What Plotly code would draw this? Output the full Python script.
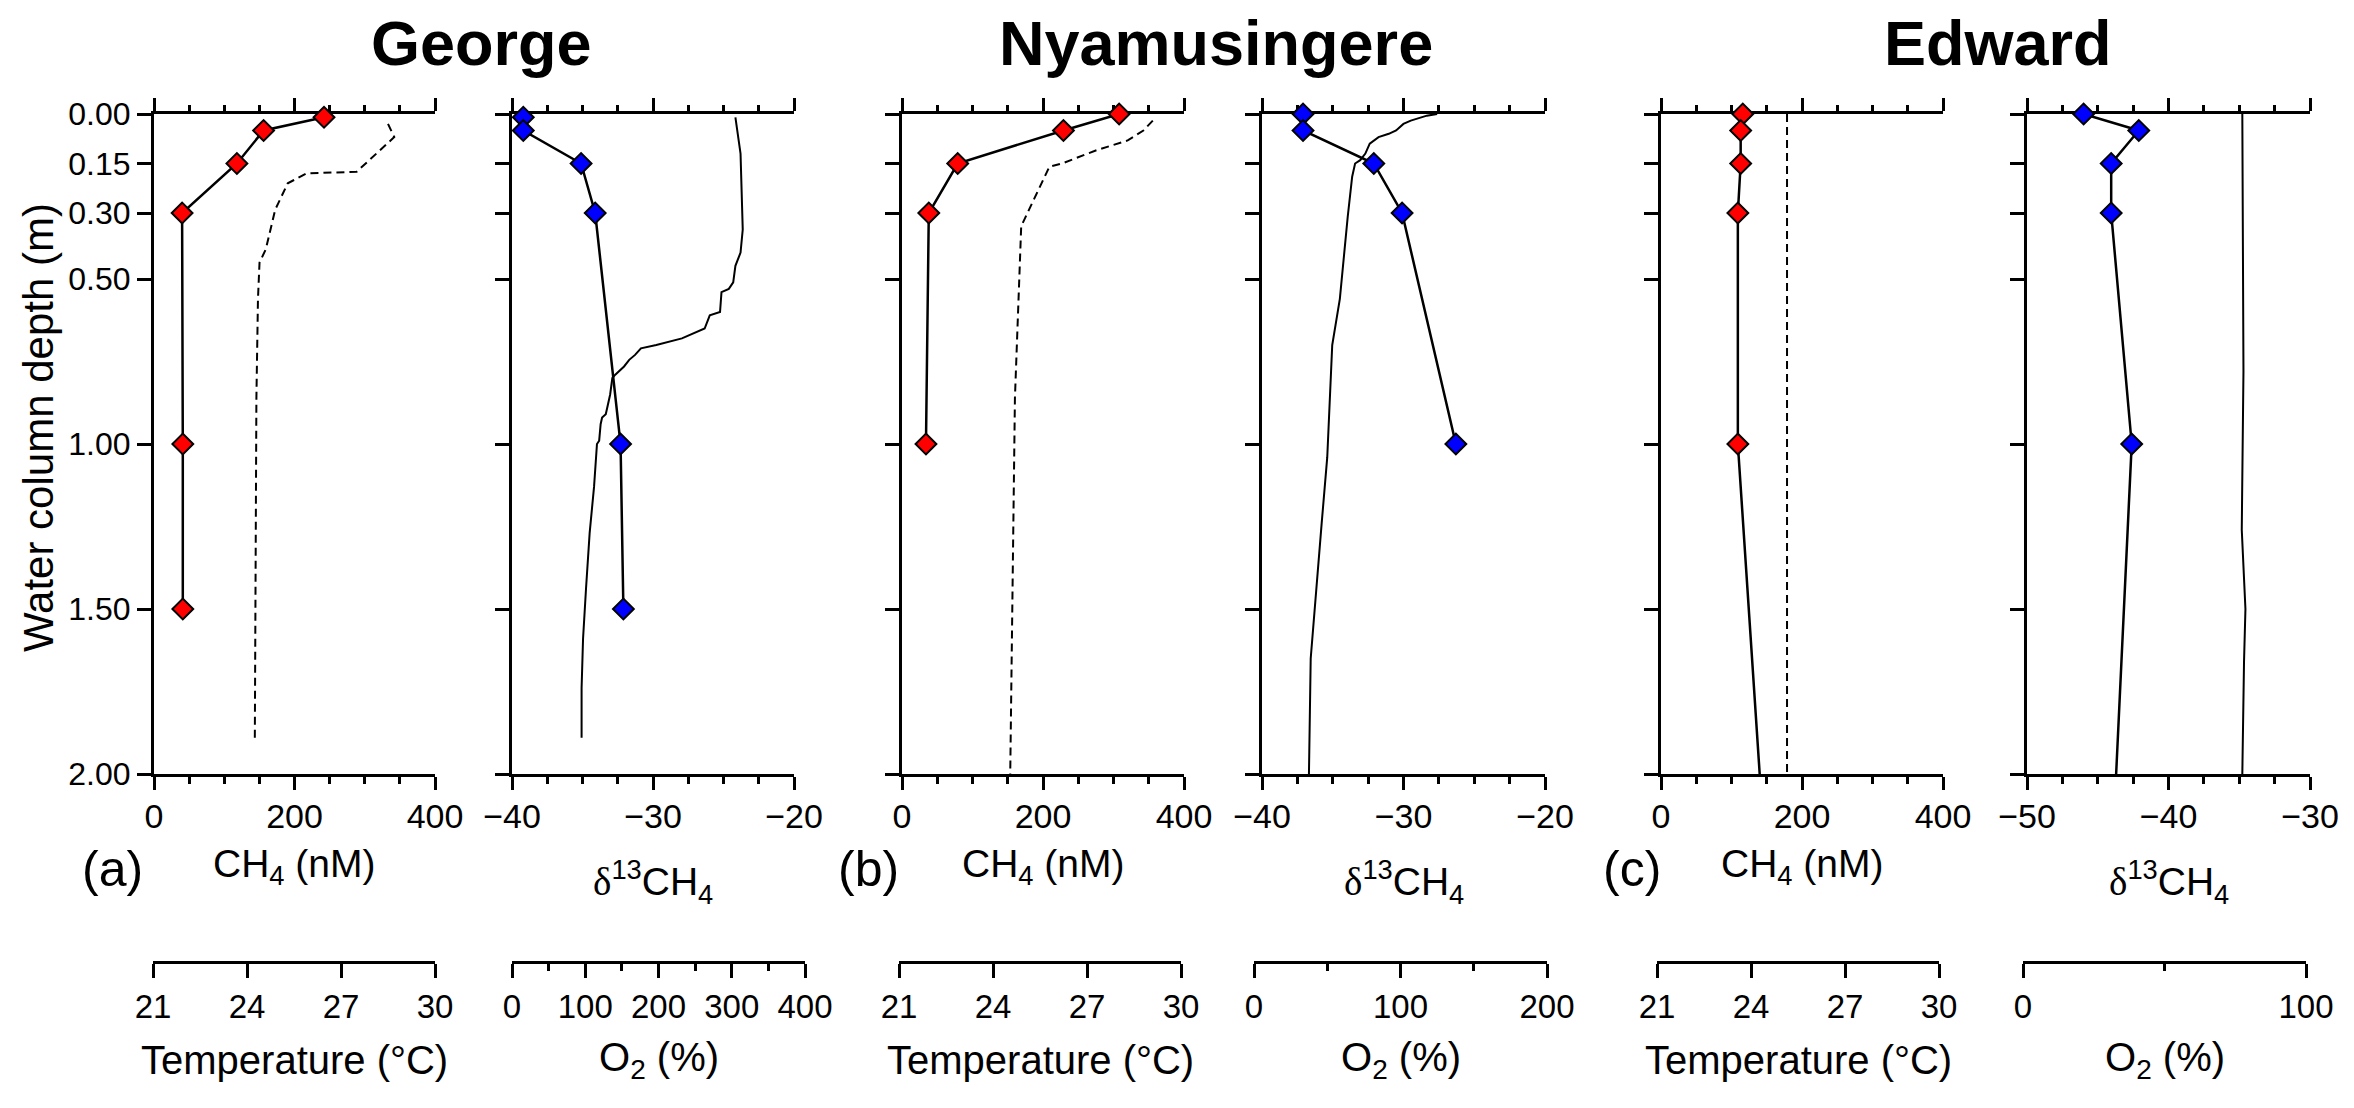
import plotly.graph_objects as go

W, H = 2354, 1108
OFF = 8  # default page margin around the plot div

# ---- data ----
depth_ticks = [0, 0.15, 0.30, 0.50, 1.00, 1.50, 2.00]
depth_labels = ["0.00", "0.15", "0.30", "0.50", "1.00", "1.50", "2.00"]

# George
george_depth = [0.01, 0.05, 0.15, 0.30, 1.00, 1.50]
george_ch4 = [242, 156, 118, 40, 41, 41]
george_d13c = [-39.2, -39.2, -35.1, -34.1, -32.3, -32.1]
george_temp_depth = [0.03, 0.07, 0.175, 0.18, 0.20, 0.21, 0.27, 0.29, 0.41, 0.45, 0.56, 0.86, 1.89]
george_temp = [28.5, 28.7, 27.5, 25.9, 25.5, 25.3, 25.0, 24.9, 24.6, 24.4, 24.35, 24.3, 24.25]
george_o2_depth = [0.01, 0.12, 0.35, 0.42, 0.46, 0.51, 0.53, 0.54, 0.60, 0.61, 0.65, 0.68, 0.70,
                   0.71, 0.73, 0.745, 0.765, 0.78, 0.79, 0.80, 0.85, 0.89, 0.91, 0.92, 0.94, 0.99,
                   1.00, 1.13, 1.27, 1.44, 1.59, 1.74, 1.89]
george_o2 = [305, 312, 315, 312, 305, 302, 296, 286, 284, 270, 263, 232, 197,
             176, 168, 160, 153, 145, 141, 137, 134, 130, 128, 123, 121, 119,
             116, 112, 106, 101, 97, 95, 95]

# Nyamusingere
nyam_depth = [0.0, 0.05, 0.15, 0.30, 1.00]
nyam_ch4 = [308, 229, 79, 38, 34]
nyam_d13c = [-37.1, -37.1, -32.1, -30.1, -26.3]
nyam_temp_depth = [0.02, 0.05, 0.08, 0.11, 0.15, 0.16, 0.32, 0.34, 0.86, 2.00]
nyam_temp = [29.1, 28.8, 28.3, 27.3, 26.2, 25.8, 25.0, 24.9, 24.7, 24.55]
nyam_o2_depth = [0.0, 0.005, 0.02, 0.03, 0.05, 0.06, 0.07, 0.09, 0.12, 0.14, 0.15, 0.19,
                 0.31, 0.56, 0.70, 0.84, 1.04, 1.24, 1.34, 1.50, 1.60, 1.65, 2.00]
nyam_o2 = [125, 118, 107, 102, 97, 92, 85, 79, 76, 72.5, 69, 67,
           64, 58.6, 53.4, 51.9, 50, 46.2, 44.4, 41.6, 39.4, 38.7, 37.5]

# Edward (last depth = line only, no sample marker)
edward_depth = [0.0, 0.05, 0.15, 0.30, 1.00, 2.00]
edward_ch4 = [116, 113, 113, 109, 109, 140]
edward_d13c = [-46.0, -42.1, -44.05, -44.05, -42.6, -43.7]
edward_temp_depth = [0.0, 2.0]
edward_temp = [25.15, 25.15]
edward_o2_depth = [0.0, 0.78, 1.26, 1.50, 1.66, 2.00]
edward_o2 = [77.5, 77.9, 77.3, 78.6, 78.1, 77.5]

lakes = ["George", "Nyamusingere", "Edward"]
letters = ["(a)", "(b)", "(c)"]

FW, FH = W - OFF, H - OFF


def fx(p):
    return (p - OFF) / FW


def fy(p):
    return 1 - (p - OFF) / FH


FONT = "Liberation Sans, Arial, sans-serif"

# panel geometry in screen pixels
panel_x = [(154, 435), (512, 794), (902, 1184), (1262, 1545), (1661, 1943), (2027, 2310)]
sec_x = [(153, 435), (512, 805), (899, 1181), (1254, 1547), (1657, 1939), (2023, 2306)]
top_px, bot_px, sec_px = 114, 774, 962

prim = [
    dict(range=[0, 400], dtick=200, tick0=0, minor=50),
    dict(range=[-40, -20], dtick=10, tick0=-40, minor=2.5),
    dict(range=[0, 400], dtick=200, tick0=0, minor=50),
    dict(range=[-40, -20], dtick=10, tick0=-40, minor=2.5),
    dict(range=[0, 400], dtick=200, tick0=0, minor=50),
    dict(range=[-50, -30], dtick=10, tick0=-50, minor=2.5),
]
sec = [
    dict(range=[21, 30], dtick=3, tick0=21, minor=None),
    dict(range=[0, 400], dtick=100, tick0=0, minor=50),
    dict(range=[21, 30], dtick=3, tick0=21, minor=None),
    dict(range=[0, 200], dtick=100, tick0=0, minor=50),
    dict(range=[21, 30], dtick=3, tick0=21, minor=None),
    dict(range=[0, 100], dtick=100, tick0=0, minor=50),
]

fig = go.Figure()

samples = [
    (george_depth, george_ch4, george_d13c, len(george_depth)),
    (nyam_depth, nyam_ch4, nyam_d13c, len(nyam_depth)),
    (edward_depth, edward_ch4, edward_d13c, 5),
]
profiles = [
    (george_temp_depth, george_temp, george_o2_depth, george_o2),
    (nyam_temp_depth, nyam_temp, nyam_o2_depth, nyam_o2),
    (edward_temp_depth, edward_temp, edward_o2_depth, edward_o2),
]

for k in range(3):
    d, ch4, d13c, nm = samples[k]
    td, temp, od, o2 = profiles[k]
    i1, i2 = 2 * k + 1, 2 * k + 2
    ya1 = "y" if i1 == 1 else "y%d" % i1
    ya2 = "y%d" % i2
    xa1 = "x" if i1 == 1 else "x%d" % i1
    xa2 = "x%d" % i2
    # temperature (dashed) and O2 profiles on their own lower axes
    fig.add_trace(go.Scatter(x=temp, y=td, xaxis="x%d" % (i1 + 6), yaxis=ya1, mode="lines",
                             line=dict(color="black", width=2, dash="8px,5px"), showlegend=False))
    fig.add_trace(go.Scatter(x=o2, y=od, xaxis="x%d" % (i2 + 6), yaxis=ya2, mode="lines",
                             line=dict(color="black", width=2), showlegend=False))
    # sample lines
    fig.add_trace(go.Scatter(x=ch4, y=d, xaxis=xa1, yaxis=ya1, mode="lines",
                             line=dict(color="black", width=2.5), showlegend=False))
    fig.add_trace(go.Scatter(x=d13c, y=d, xaxis=xa2, yaxis=ya2, mode="lines",
                             line=dict(color="black", width=2.5), showlegend=False))
    # sample markers
    fig.add_trace(go.Scatter(x=ch4[:nm], y=d[:nm], xaxis=xa1, yaxis=ya1, mode="markers",
                             marker=dict(symbol="diamond", size=16, color="#ff0000",
                                         line=dict(color="black", width=2)),
                             cliponaxis=False, showlegend=False))
    fig.add_trace(go.Scatter(x=d13c[:nm], y=d[:nm], xaxis=xa2, yaxis=ya2, mode="markers",
                             marker=dict(symbol="diamond", size=16, color="#0000ff",
                                         line=dict(color="black", width=2)),
                             cliponaxis=False, showlegend=False))

layout = {}
for i in range(1, 7):
    s = "" if i == 1 else str(i)
    p = prim[i - 1]
    layout["xaxis" + s] = dict(
        domain=[fx(panel_x[i - 1][0]), fx(panel_x[i - 1][1])], range=p["range"],
        anchor="y" + s, side="bottom", showline=True, linewidth=3, linecolor="black",
        mirror="ticks", ticks="outside", ticklen=13, tickwidth=2.5, tickcolor="black",
        dtick=p["dtick"], tick0=p["tick0"], ticklabelstandoff=-3,
        minor=dict(dtick=p["minor"], tick0=p["tick0"], ticks="outside", ticklen=6.5,
                   tickwidth=2.5, tickcolor="black"),
        tickfont=dict(family=FONT, size=34, color="black"), automargin=False,
        showgrid=False, zeroline=False, layer="below traces", fixedrange=True)
    layout["yaxis" + s] = dict(
        domain=[fy(bot_px), fy(top_px)], range=[2, 0], anchor="x" + s,
        showline=True, linewidth=3, linecolor="black", ticks="outside", ticklen=14,
        tickwidth=2.5, tickcolor="black", tickvals=depth_ticks, ticktext=depth_labels,
        showticklabels=(i == 1), tickfont=dict(family=FONT, size=32, color="black"),
        automargin=False, showgrid=False, zeroline=False, layer="below traces",
        fixedrange=True)
    layout["yaxis%d" % (i + 6)] = dict(
        overlaying="y" + s, side="right", anchor="x" + s, range=[2, 0],
        showline=True, linewidth=3, linecolor="black", ticks="outside", ticklen=14,
        tickwidth=2.5, tickcolor="black", tickvals=[0, 0.5, 1.0, 1.5, 2.0],
        showticklabels=False, automargin=False, showgrid=False, zeroline=False,
        layer="below traces", fixedrange=True)
    q = sec[i - 1]
    ax = dict(
        domain=[fx(sec_x[i - 1][0]), fx(sec_x[i - 1][1])], range=q["range"],
        anchor="free", position=fy(sec_px), side="bottom",
        showline=True, linewidth=3, linecolor="black", ticks="outside", ticklen=14,
        tickwidth=2.5, tickcolor="black", dtick=q["dtick"], tick0=q["tick0"],
        tickfont=dict(family=FONT, size=33, color="black"), automargin=False,
        showgrid=False, zeroline=False, layer="below traces", fixedrange=True)
    if q["minor"]:
        ax["minor"] = dict(dtick=q["minor"], tick0=q["tick0"], ticks="outside", ticklen=7,
                           tickwidth=2.5, tickcolor="black")
    layout["xaxis%d" % (i + 6)] = ax

annotations = []


def ann(text, x, y, size, xref="paper", angle=0, bold=False):
    annotations.append(dict(
        text="<b>%s</b>" % text if bold else text, x=x, y=fy(y), xref=xref, yref="paper",
        xanchor="center", yanchor="middle", showarrow=False, textangle=angle,
        font=dict(family=FONT, size=size, color="black")))


title_x = [481, 1216, 1998]
letter_x = [112, 868, 1632]
for k in range(3):
    ann(lakes[k], fx(title_x[k]), 43, 63, bold=True)
    ann(letters[k], fx(letter_x[k]), 869, 50)
    i1, i2 = 2 * k + 1, 2 * k + 2
    ann("CH<sub>4</sub> (nM)", 0.5, 866, 39, xref=("x" if i1 == 1 else "x%d" % i1) + " domain")
    ann("<span style='font-family:Liberation Serif, Times New Roman, serif'>δ</span>"
        "<sup>13</sup>CH<sub>4</sub>", 0.5, 882, 39, xref="x%d domain" % i2)
    ann("Temperature (°C)", 0.5, 1060, 40, xref="x%d domain" % (i1 + 6))
    ann("O<sub>2</sub> (%)", 0.5, 1060, 40, xref="x%d domain" % (i2 + 6))

ann("Water column depth (m)", fx(38), 428, 42, angle=-90)

fig.update_layout(
    width=FW, height=FH, margin=dict(l=0, r=0, t=0, b=0, pad=0, autoexpand=False),
    paper_bgcolor="white", plot_bgcolor="rgba(0,0,0,0)", showlegend=False,
    annotations=annotations, **layout)

fig.write_html("out.html")
